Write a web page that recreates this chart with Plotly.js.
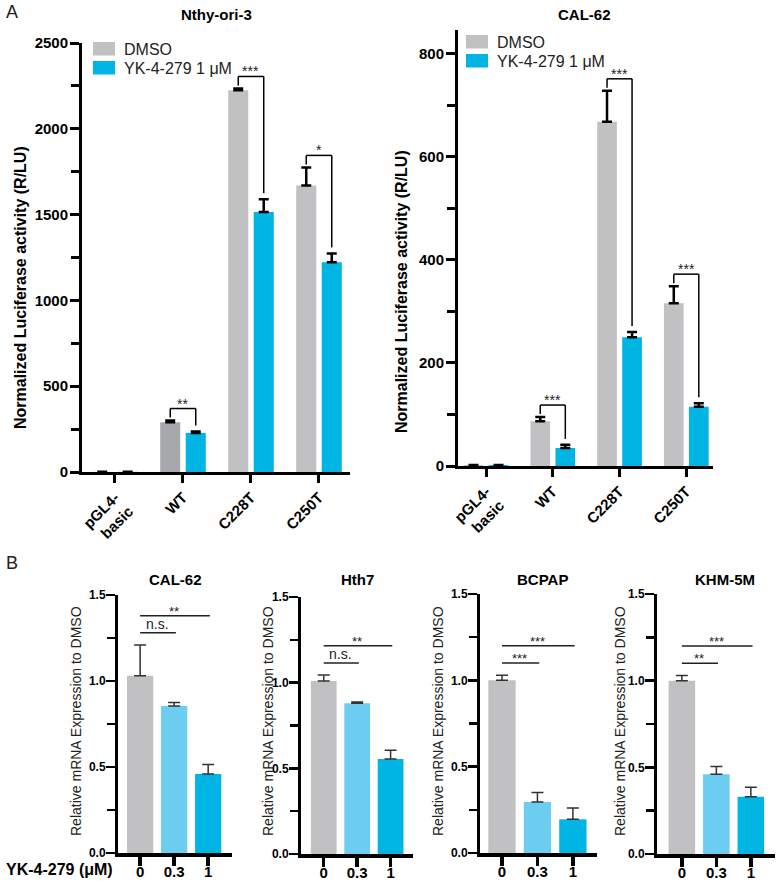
<!DOCTYPE html>
<html><head><meta charset="utf-8">
<script src="https://cdn.plot.ly/plotly-3.0.1.min.js"></script>
<style>body{margin:0;background:#fff}#chart{width:778px;height:881px}</style>
</head><body><div id="chart"></div>
<script>
// ---------- Panel A data ----------
const constructs = ['pGL4-<br>basic', 'WT', 'C228T', 'C250T'];
const nthyDMSO    = [1, 290, 2225, 1670];
const nthyDMSOErr = [0, 10, 10, 105];
const nthyYK      = [1, 228, 1515, 1222];
const nthyYKErr   = [0, 8, 75, 52];
const nthySig     = ['', '**', '***', '*'];
const calDMSO     = [2, 87, 668, 316];
const calDMSOErr  = [0, 8, 60, 33];
const calYK       = [2, 35, 250, 115];
const calYKErr    = [0, 6, 10, 7];
const calSig      = ['', '***', '***', '***'];
const legendNames = ['DMSO', 'YK-4-279 1 μM'];
const panelATitles = ['Nthy-ori-3', 'CAL-62'];

// ---------- Panel B data ----------
const doses = ['0', '0.3', '1'];
const bTitles = ['CAL-62', 'Hth7', 'BCPAP', 'KHM-5M'];
const bCal62   = [1.03, 0.855, 0.46];
const bCal62Err = [0.18, 0.02, 0.055];
const bHth7    = [1.01, 0.88, 0.555];
const bHth7Err = [0.035, 0.007, 0.05];
const bBCPAP   = [1.0, 0.295, 0.195];
const bBCPAPErr = [0.03, 0.055, 0.065];
const bKHM     = [1.0, 0.46, 0.33];
const bKHMErr  = [0.03, 0.045, 0.055];
const bSigShort = ['n.s.', 'n.s.', '***', '**'];
const bSigLong  = ['**', '**', '***', '***'];

// ---------- styles ----------
const W = 778, H = 881;
const GRAY = '#c1c1c3', GRAY_DARK = '#a6a8ab', BLUE = '#00b4e3', LIGHT = '#6ccdf0';
const FONT = 'Liberation Sans, Arial, Helvetica, sans-serif';
const px = x => x / W;
const py = y => 1 - y / H;

const traces = [];
const shapes = [];
const annotations = [];
function note(o) {
  annotations.push(Object.assign({showarrow: false, xanchor: 'center', yanchor: 'middle',
    xref: 'paper', yref: 'paper'}, o));
}
const layout = {
  width: W, height: H, margin: {l: 0, r: 0, t: 0, b: 0},
  paper_bgcolor: '#fff', plot_bgcolor: 'rgba(0,0,0,0)',
  font: {family: FONT, color: '#000'},
  showlegend: false, barmode: 'overlay'
};

function yAx(domTop, domBot, range, dtick, minor, fontSize, lw, tl, tw, standoff) {
  return {
    domain: [py(domBot), py(domTop)], range: range, dtick: dtick,
    ticks: 'outside', ticklen: tl, tickwidth: tw, tickcolor: '#000',
    showline: true, linewidth: lw, linecolor: '#000',
    showgrid: false, zeroline: false, fixedrange: true,
    minor: {dtick: minor, ticks: 'outside', ticklen: tl - 1, tickwidth: tw, tickcolor: '#000', showgrid: false},
    tickfont: {size: fontSize, family: FONT, weight: 'bold', color: '#000'},
    ticklabelstandoff: standoff
  };
}
function xAx(l, r, range, angle, fontSize, anchor, lw, ticklen, standoff) {
  return {
    domain: [px(l), px(r)], range: range, type: 'category', anchor: anchor,
    ticks: 'outside', ticklen: ticklen, tickwidth: lw, tickcolor: '#000',
    showline: true, linewidth: lw, linecolor: '#000',
    showgrid: false, zeroline: false, fixedrange: true, tickangle: angle,
    ticklabelstandoff: standoff,
    tickfont: {size: fontSize, family: FONT, weight: 'bold', color: '#000'}
  };
}

// ---------- Panel A ----------
const panelsA = [
  {d: nthyDMSO, de: nthyDMSOErr, k: nthyYK, ke: nthyYKErr, sig: nthySig, xa: 'x', ya: 'y',
   xl: 82, xr: 350, yt: 43, yb: 472, range: [0, 2500], dtick: 500, minor: 250, xr0: [-0.485, 3.456],
   darkWT: true, title: panelATitles[0], tx: 216, ytx: 20, yty: 288, leg: {x: 93, y: 42}},
  {d: calDMSO, de: calDMSOErr, k: calYK, ke: calYKErr, sig: calSig, xa: 'x2', ya: 'y2',
   xl: 458, xr: 713, yt: 30, yb: 466, range: [0, 846], dtick: 200, minor: 100, xr0: [-0.42, 3.4],
   darkWT: false, title: panelATitles[1], tx: 584, ytx: 401, yty: 292, leg: {x: 466, y: 35}}
];
const OFF = 0.335, BW = 0.295, GAP = 0.04;
panelsA.forEach((p, i) => {
  const n = i === 0 ? '' : '2';
  layout['xaxis' + n] = xAx(p.xl, p.xr, p.xr0, -45, 15, p.ya, 3, 8, 0);
  layout['yaxis' + n] = Object.assign(yAx(p.yt, p.yb, p.range, p.dtick, p.minor, 15, 3, 9, 3, -1), {anchor: p.xa});
  const errStyle = {type: 'data', symmetric: false, color: '#000', thickness: 2.5, width: 5};
  traces.push({
    type: 'bar', name: legendNames[0], x: constructs, y: p.d, xaxis: p.xa, yaxis: p.ya,
    width: BW, offset: -OFF,
    marker: {color: constructs.map(c => (p.darkWT && c === 'WT') ? GRAY_DARK : GRAY), line: {width: 0}},
    error_y: Object.assign({array: p.de, arrayminus: p.de.map(() => 0)}, errStyle)
  });
  traces.push({
    type: 'bar', name: legendNames[1], x: constructs, y: p.k, xaxis: p.xa, yaxis: p.ya,
    width: BW, offset: GAP,
    marker: {color: BLUE, line: {width: 0}},
    error_y: Object.assign({array: p.ke, arrayminus: p.ke.map(() => 0)}, errStyle)
  });
  // significance brackets
  const unit = (p.range[1] - p.range[0]) / (p.yb - p.yt); // data per px
  const cL = -OFF + BW / 2, cR = GAP + BW / 2;
  p.sig.forEach((s, j) => {
    if (!s) return;
    const capL = p.d[j] + p.de[j], capR = p.k[j] + p.ke[j];
    const top = Math.max(capL, capR) + 12 * unit;
    const botL = capL + 3 * unit, botR = capR + 6 * unit;
    const ln = {type: 'line', xref: p.xa, yref: p.ya, line: {color: '#000', width: 1.5}};
    shapes.push(Object.assign({x0: j + cL, x1: j + cL, y0: botL, y1: top}, ln));
    shapes.push(Object.assign({x0: j + cL, x1: j + cR, y0: top, y1: top}, ln));
    shapes.push(Object.assign({x0: j + cR, x1: j + cR, y0: top, y1: botR}, ln));
    note({text: s, xref: p.xa, yref: p.ya, x: j + (cL + cR) / 2, y: top,
      yanchor: 'bottom', yshift: -5, font: {size: 14, family: FONT, color: '#222'}});
  });
  // title & y-title
  note({text: p.title, x: px(p.tx), y: py(15), font: {size: 15, family: FONT, weight: 'bold'}});
  note({text: 'Normalized Luciferase activity (R/LU)', x: px(p.ytx), y: py(p.yty), textangle: -90,
    font: {size: 16, family: FONT, weight: 'bold'}});
  // legend
  [GRAY, BLUE].forEach((c, k) => {
    const y0 = p.leg.y + k * 19;
    shapes.push({type: 'rect', xref: 'paper', yref: 'paper', x0: px(p.leg.x), x1: px(p.leg.x + 22),
      y0: py(y0 + 13.5), y1: py(y0), fillcolor: c, line: {width: 0}});
    note({text: legendNames[k], x: px(p.leg.x + 29), y: py(y0 + 7), xanchor: 'left',
      font: {size: 16, family: FONT, color: '#222'}});
  });
});

// ---------- Panel B ----------
const panelsB = [
  {v: bCal62, e: bCal62Err, xl: 118, xr: 232, yt: 595, yb: 853, xr0: [-0.65, 2.7], tx: 175, ytx: 76},
  {v: bHth7, e: bHth7Err, xl: 301, xr: 413, yt: 597, yb: 854, xr0: [-0.68, 2.67], tx: 357, ytx: 268},
  {v: bBCPAP, e: bBCPAPErr, xl: 480, xr: 597, yt: 594, yb: 853, xr0: [-0.62, 2.68], tx: 542, ytx: 438},
  {v: bKHM, e: bKHMErr, xl: 657, xr: 775, yt: 594, yb: 854, xr0: [-0.72, 2.7], tx: 725, ytx: 620}
];
panelsB.forEach((p, i) => {
  const n = String(i + 3);
  const xa = 'x' + n, ya = 'y' + n;
  layout['xaxis' + n] = xAx(p.xl, p.xr, p.xr0, 0, 15, ya, 3.5, 9, -7);
  layout['yaxis' + n] = Object.assign(yAx(p.yt, p.yb, [0, 1.5], 0.5, 0.25, 12, 3, 9, 2.5, -2),
    {anchor: xa, tickformat: '.1f'});
  traces.push({
    type: 'bar', name: bTitles[i], x: doses, y: p.v, xaxis: xa, yaxis: ya, width: 0.77,
    marker: {color: [GRAY, LIGHT, BLUE], line: {width: 0}},
    error_y: {type: 'data', symmetric: false, array: p.e, arrayminus: p.e.map(() => 0),
      color: '#333', thickness: 1.5, width: 6}
  });
  const maxCap = Math.max(...p.v.map((v, j) => v + p.e[j]));
  const yS = maxCap + 0.07, yL = maxCap + 0.17;
  const ln = {type: 'line', xref: xa, yref: ya, line: {color: '#222', width: 1.5}};
  shapes.push(Object.assign({x0: 0, x1: 2.05, y0: yL, y1: yL}, ln));
  shapes.push(Object.assign({x0: 0, x1: 1.05, y0: yS, y1: yS}, ln));
  note({text: bSigLong[i], xref: xa, yref: ya, x: 1, y: yL, yanchor: 'bottom', yshift: -5,
    font: {size: 13, family: FONT, color: '#222'}});
  const isNS = bSigShort[i] === 'n.s.';
  note({text: bSigShort[i], xref: xa, yref: ya, x: 0.5, y: yS, yanchor: 'bottom',
    yshift: isNS ? -1 : -5, font: {size: isNS ? 14 : 13, family: FONT, color: '#222'}});
  note({text: bTitles[i], x: px(p.tx), y: py(579), font: {size: 15, family: FONT, weight: 'bold'}});
  note({text: 'Relative mRNA Expression to DMSO', x: px(p.ytx), y: py(721), textangle: -90,
    font: {size: 14, family: FONT, color: '#222'}});
});

note({text: 'YK-4-279 (μM)', x: px(4), y: py(869), xanchor: 'left',
  font: {size: 16, family: FONT, weight: 'bold'}});
note({text: 'A', x: px(4), y: py(12), xanchor: 'left', font: {size: 18, family: FONT, color: '#222'}});
note({text: 'B', x: px(4), y: py(563), xanchor: 'left', font: {size: 18, family: FONT, color: '#222'}});

layout.shapes = shapes;
layout.annotations = annotations;
Plotly.newPlot('chart', traces, layout, {displayModeBar: false, staticPlot: true});
</script>
</body></html>
